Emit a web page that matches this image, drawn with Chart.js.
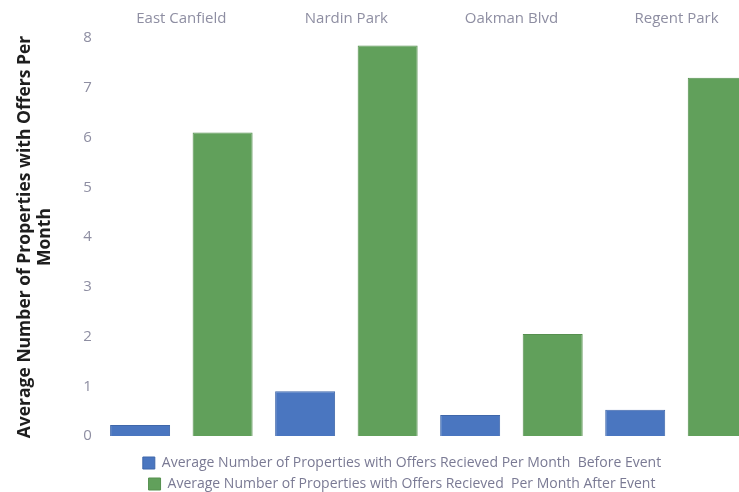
<!DOCTYPE html>
<html>
<head>
<meta charset="utf-8">
<script src="https://cdn.jsdelivr.net/npm/chart.js@4"></script>
<style>
  html, body { margin: 0; padding: 0; background: #fff; overflow: hidden; }
  #wrap { width: 800px; height: 492px; }
</style>
</head>
<body>
<div id="wrap"><canvas id="offersChart"></canvas></div>
<script>
/* ============================
   DATA
============================ */
const neighborhoods = ["East Canfield", "Nardin Park", "Oakman Blvd", "Regent Park"];
const beforeEvent = [0.22, 0.9, 0.42, 0.53];
const afterEvent = [6.1, 7.85, 2.05, 7.2];
const yTicks = [0, 1, 2, 3, 4, 5, 6, 7, 8];

const tickGray = "#8e8ea2";

/* nudge the legend so it sits under the bars like the original */
const legendShift = {
  id: "legendShift",
  afterLayout(chart) {
    const lg = chart.legend;
    lg.left += 15;
    lg.right += 15;
    lg.top += 13;
    lg.bottom += 13;
  },
};

/* ============================
   CHART
============================ */
const ctx = document.getElementById("offersChart").getContext("2d");

new Chart(ctx, {
  type: "bar",
  data: {
    labels: neighborhoods,
    datasets: [
      {
        label: "Average Number of Properties with Offers Recieved Per Month  Before Event",
        data: beforeEvent,
        backgroundColor: "#4a76c0",
        borderColor: "#3f67aa",
        borderWidth: 1,
      },
      {
        label: "Average Number of Properties with Offers Recieved  Per Month After Event",
        data: afterEvent,
        backgroundColor: "#61a05b",
        borderColor: "#56904f",
        borderWidth: 1,
      },
    ],
  },
  options: {
    responsive: true,
    maintainAspectRatio: false,
    animation: false,
    layout: { padding: { left: 15, right: 41, top: 0, bottom: 4 } },
    datasets: { bar: { categoryPercentage: 1, barPercentage: 0.727 } },
    scales: {
      x: {
        position: "top",
        grid: { display: false, drawTicks: false },
        border: { display: false },
        ticks: {
          color: tickGray,
          padding: 10,
          font: { family: "Open Sans", size: 15 },
        },
      },
      y: {
        min: 0,
        max: 8,
        grid: { display: false, drawTicks: false },
        border: { display: false },
        afterBuildTicks: (scale) => {
          scale.ticks = yTicks.map((v) => ({ value: v }));
        },
        ticks: {
          color: tickGray,
          padding: 7,
          font: { family: "Open Sans", size: 15 },
        },
        title: {
          display: true,
          text: ["Average Number of Properties with Offers Per", "Month"],
          color: "#1e1e1e",
          font: { family: "Open Sans", size: 17.5, weight: "bold", lineHeight: 1.15 },
          padding: { top: 0, bottom: 21 },
        },
      },
    },
    plugins: {
      tooltip: { enabled: false },
      legend: {
        position: "bottom",
        labels: {
          color: "#7a7a94",
          boxWidth: 12,
          boxHeight: 12,
          padding: 7,
          font: { family: "Open Sans", size: 14 },
        },
      },
    },
  },
  plugins: [legendShift],
});
</script>
</body>
</html>
